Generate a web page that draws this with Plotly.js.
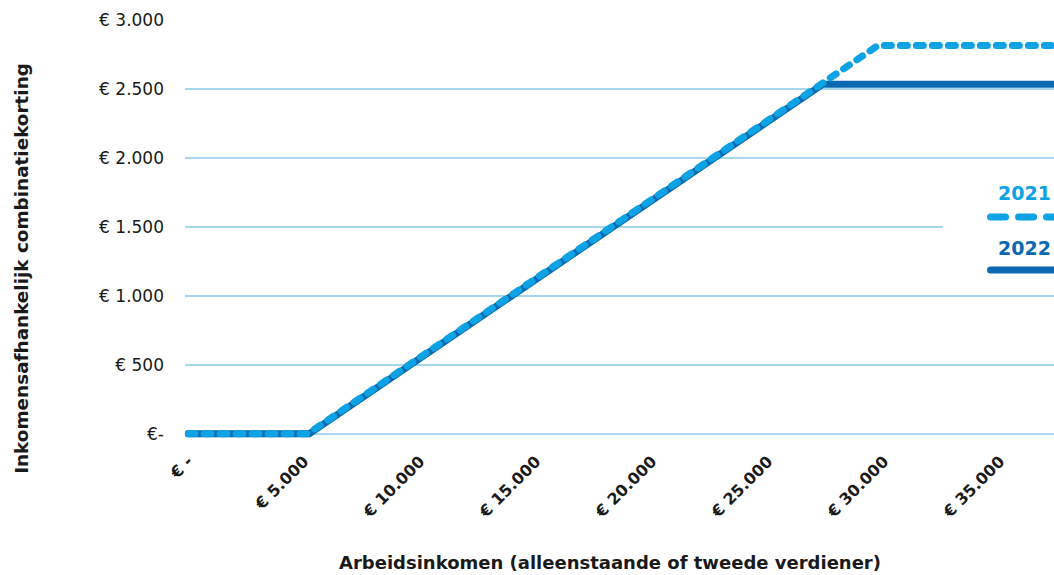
<!DOCTYPE html>
<html>
<head>
<meta charset="utf-8">
<script src="https://cdn.plot.ly/plotly-3.0.1.min.js"></script>
<style>
html,body{margin:0;padding:0;background:#fff;}
#chart{width:1054px;height:575px;}
.scatterlayer path.js-line{stroke-linecap:round;stroke-linejoin:round;}
.shapelayer path{stroke-linecap:round;}
</style>
</head>
<body>
<div id="chart"></div>
<script>
// Data
const income2021 = [0, 5153, 29738, 40000];
const korting2021 = [0, 0, 2815, 2815];
const income2022 = [0, 5219, 27354, 40000];
const korting2022 = [0, 0, 2534, 2534];

const xTickVals = [0, 5000, 10000, 15000, 20000, 25000, 30000, 35000];
const xTickText = ['€ -', '€ 5.000', '€ 10.000', '€ 15.000', '€ 20.000', '€ 25.000', '€ 30.000', '€ 35.000'];
const yTickVals = [0, 500, 1000, 1500, 2000, 2500, 3000];
const yTickText = ['€-', '€ 500', '€ 1.000', '€ 1.500', '€ 2.000', '€ 2.500', '€ 3.000'];

const seriesNames = ['2021', '2022'];
const colLight = '#0ca2e3';
const colDark = '#0a69b1';
const gridCol = '#a6d6ee';
const font = 'DejaVu Sans, sans-serif';

const traces = [
  {x: income2022, y: korting2022, name: seriesNames[1], mode: 'lines',
   line: {color: colDark, width: 7}, hoverinfo: 'skip', showlegend: false},
  {x: income2021, y: korting2021, name: seriesNames[0], mode: 'lines',
   line: {color: colLight, width: 7, dash: '7px,9px'}, hoverinfo: 'skip', showlegend: false}
];

const layout = {
  width: 1054, height: 575,
  margin: {l: 185, r: 0, t: 20, b: 137},
  paper_bgcolor: '#fff', plot_bgcolor: '#fff',
  font: {family: font, color: '#1a1a1a'},
  showlegend: false,
  xaxis: {
    range: [-130, 37330], tickvals: xTickVals, ticktext: xTickText,
    tickangle: -45, showgrid: false, zeroline: false, showline: false,
    ticks: '', ticklabelstandoff: 10,
    tickfont: {family: font, size: 16, color: '#1a1a1a', weight: 'bold'}
  },
  yaxis: {
    range: [-30, 3000], tickvals: yTickVals, ticktext: yTickText,
    showgrid: true, gridcolor: gridCol, gridwidth: 1.5,
    zeroline: false, showline: false, ticks: '', ticklabelstandoff: 20,
    tickfont: {family: font, size: 17, color: '#1a1a1a'}
  },
  shapes: [
    {type: 'line', xref: 'paper', yref: 'y', x0: 0, x1: 1, y0: 0, y1: 0,
     line: {color: gridCol, width: 1.5}, layer: 'below'},
    {type: 'rect', xref: 'paper', yref: 'paper', x0: 0.8723, x1: 1.01, y0: 0.366, y1: 0.636,
     fillcolor: '#fff', line: {width: 0}, layer: 'above'},
    {type: 'line', xref: 'paper', yref: 'paper', x0: 0.927, x1: 1.05, y0: 0.529, y1: 0.529,
     line: {color: colLight, width: 7, dash: '15px,13px'}},
    {type: 'line', xref: 'paper', yref: 'paper', x0: 0.927, x1: 1.05, y0: 0.402, y1: 0.402,
     line: {color: colDark, width: 7}}
  ],
  annotations: [
    {text: '<b>' + seriesNames[0] + '</b>', xref: 'paper', yref: 'paper', x: 0.9333, y: 0.586,
     xanchor: 'left', yanchor: 'middle', showarrow: false,
     font: {family: font, size: 19, color: colLight}},
    {text: '<b>' + seriesNames[1] + '</b>', xref: 'paper', yref: 'paper', x: 0.9333, y: 0.4545,
     xanchor: 'left', yanchor: 'middle', showarrow: false,
     font: {family: font, size: 19, color: colDark}},
    {text: '<b>Inkomensafhankelijk combinatiekorting</b>', xref: 'paper', yref: 'paper',
     x: -0.1876, y: 0.407, xanchor: 'center', yanchor: 'middle', textangle: -90, showarrow: false,
     font: {family: font, size: 18.4, color: '#1a1a1a'}},
    {text: '<b>Arbeidsinkomen (alleenstaande of tweede verdiener)</b>', xref: 'paper', yref: 'paper',
     x: 0.489, y: -0.297, xanchor: 'center', yanchor: 'middle', showarrow: false,
     font: {family: font, size: 18, color: '#1a1a1a'}}
  ]
};

Plotly.newPlot('chart', traces, layout, {displayModeBar: false, staticPlot: true});
</script>
</body>
</html>
